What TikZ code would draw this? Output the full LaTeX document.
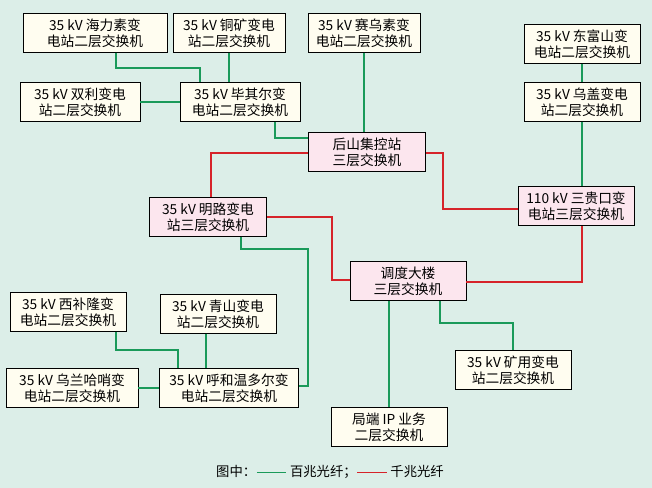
\documentclass[tikz,border=0pt]{standalone}
\usepackage{fontspec}
\setmainfont{Noto Sans CJK SC}
\usetikzlibrary{positioning,calc}
\definecolor{bgc}{HTML}{DCEEE8}
\definecolor{boxc}{HTML}{FFFDF0}
\definecolor{pinkc}{HTML}{FCE6EE}
\definecolor{gl}{HTML}{1A9A5A}
\definecolor{rl}{HTML}{D6232A}
\tikzset{
  sw/.style={draw=black, fill=boxc, line width=0.6pt, align=center, inner sep=1pt,
             font=\fontsize{10.3}{12}\selectfont, minimum height=29pt},
  core/.style={sw, fill=pinkc},
  hund/.style={draw=gl, line width=1.1pt},
  gig/.style={draw=rl, line width=1.1pt}
}
\begin{document}
\begin{tikzpicture}[x=0.75pt,y=-0.75pt]
  \fill[bgc] (0,0) rectangle (652,488);
  \useasboundingbox (0,0) rectangle (652,488);

  % switches
  \node[sw, minimum width=108pt] (hls) at (95,33) {35 kV 海力素变\\电站二层交换机};
  \node[sw, minimum width=84pt] (tk) at (229,33) {35 kV 铜矿变电\\站二层交换机};
  \node[sw, minimum width=84pt] (swy) at (364,33) {35 kV 赛乌素变\\电站二层交换机};
  \node[sw, minimum width=87pt] (dfs) at (582,44) {35 kV 东富山变\\电站二层交换机};
  \node[sw, minimum width=90pt] (sl) at (80,102) {35 kV 双利变电\\站二层交换机};
  \node[sw, minimum width=90pt] (bqe) at (240,102) {35 kV 毕其尔变\\电站二层交换机};
  \node[sw, minimum width=87pt] (wg) at (582,102) {35 kV 乌盖变电\\站二层交换机};
  \node[core, minimum width=88pt] (hs) at (367,152) {后山集控站\\三层交换机};
  \node[core, minimum width=87pt] (sgk) at (576,206) {110 kV 三贵口变\\电站三层交换机};
  \node[core, minimum width=88pt] (ml) at (208,217) {35 kV 明路变电\\站三层交换机};
  \node[core, minimum width=87pt] (dd) at (408,281) {调度大楼\\三层交换机};
  \node[sw, minimum width=87pt] (xbl) at (68,312) {35 kV 西补隆变\\电站二层交换机};
  \node[sw, minimum width=87pt] (qs) at (218,314) {35 kV 青山变电\\站二层交换机};
  \node[sw, minimum width=99pt] (wlhs) at (72,388) {35 kV 乌兰哈哨变\\电站二层交换机};
  \node[sw, minimum width=104pt] (hhwde) at (229,388) {35 kV 呼和温多尔变\\电站二层交换机};
  \node[sw, minimum width=87pt] (ky) at (513,370) {35 kV 矿用变电\\站二层交换机};
  \node[sw, minimum width=87pt] (jd) at (389,427) {局端 IP 业务\\二层交换机};

  % 100M links
  \draw[hund] (hls.south -| 116,0) |- (200,68) -- (bqe.north -| 200,0);
  \draw[hund] (tk.south) -- (bqe.north -| tk.south);
  \draw[hund] (sl) -- (bqe);
  \draw[hund] (bqe.south -| 275,0) |- (hs.west |- 0,138);
  \draw[hund] (swy.south) -- (hs.north -| swy.south);
  \draw[hund] (dfs) -- (wg);
  \draw[hund] (wg.south) -- (sgk.north -| wg.south);
  \draw[hund] (ml.south -| 241,0) |- (308,249) |- (hhwde.east |- 0,386);
  \draw[hund] (xbl.south -| 116,0) |- (178,350) -- (hhwde.north -| 178,0);
  \draw[hund] (qs.south -| 206,0) -- (hhwde.north -| 206,0);
  \draw[hund] (wlhs) -- (hhwde);
  \draw[hund] (dd.south -| 440,0) |- (513,323) -- (ky.north);
  \draw[hund] (dd.south -| jd.north) -- (jd.north);

  % 1000M links
  \draw[gig] (hs.west |- 0,153) -| (ml.north -| 211,0);
  \draw[gig] (hs.east |- 0,153) -| (443,209) -- (sgk.west |- 0,209);
  \draw[gig] (ml.east) -| (332,280) -- (dd.west |- 0,280);
  \draw[gig] (dd.east |- 0,282) -| (sgk.south -| 582,0);

  % legend
  \node[font=\fontsize{10}{11}\selectfont] (lg) at (330,472)
    {图中：\tikz[baseline=-3pt]\draw[hund] (0,0) -- (22pt,0);\ 百兆光纤；\tikz[baseline=-3pt]\draw[gig] (0,0) -- (22pt,0);\ 千兆光纤};
\end{tikzpicture}
\end{document}
